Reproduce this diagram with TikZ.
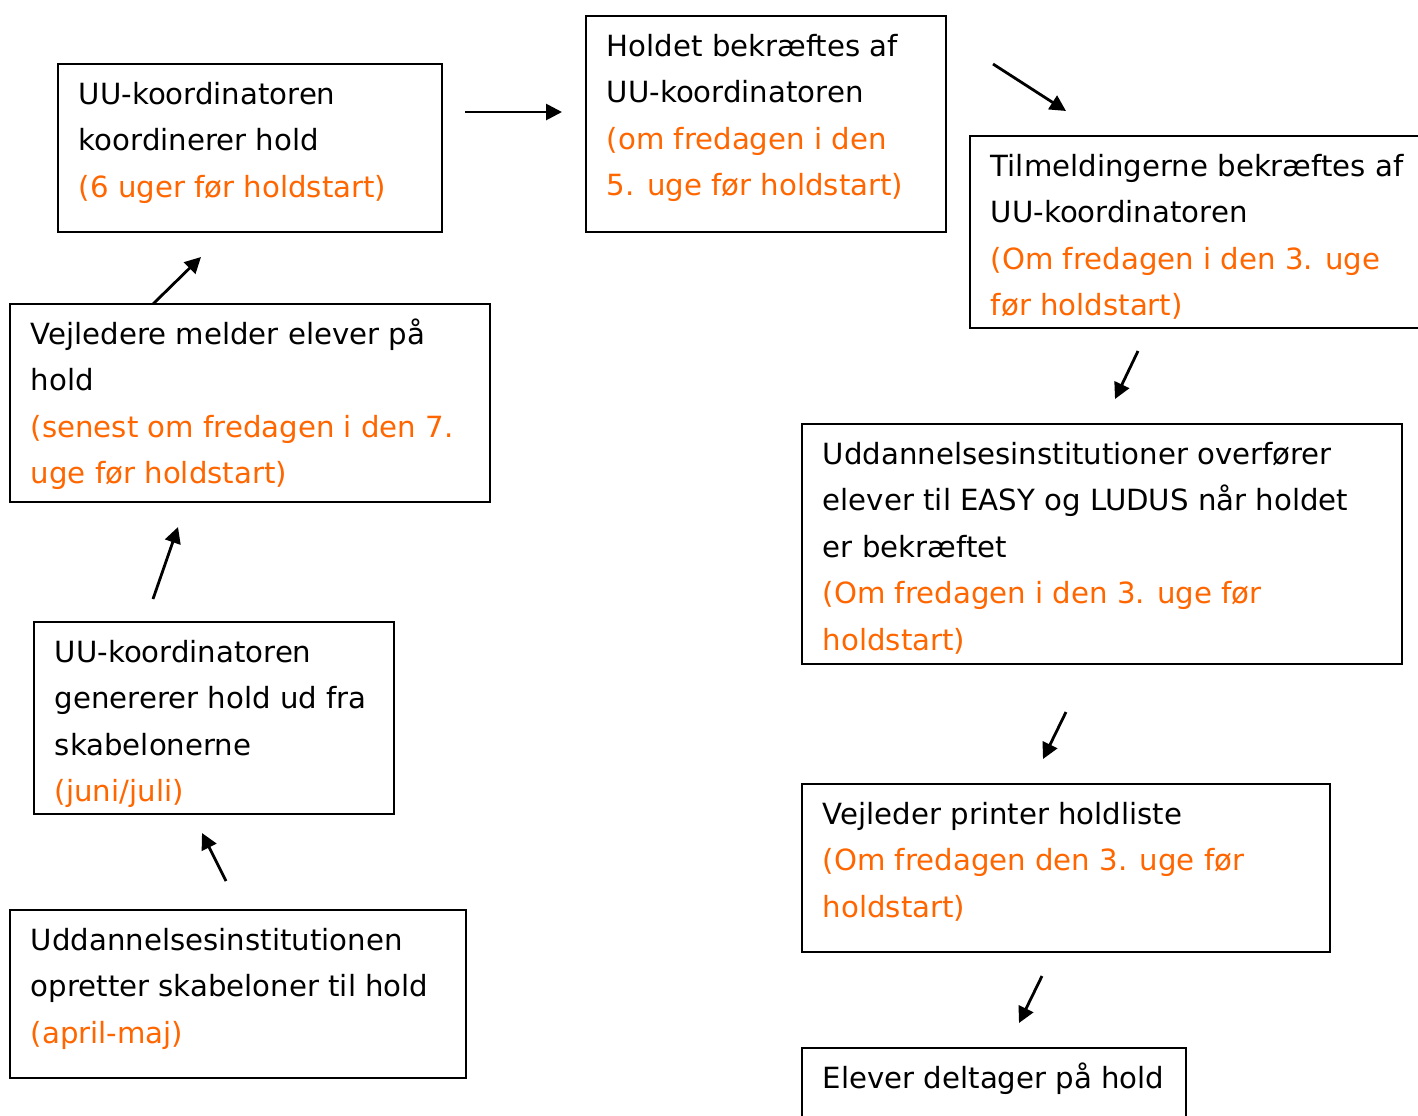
\documentclass[tikz,border=0pt]{standalone}
\usepackage{fontspec}
\setmainfont{DejaVu Sans}
\usetikzlibrary{arrows.meta,fit}
\definecolor{orng}{RGB}{255,102,0}
\begin{document}
\begin{tikzpicture}[x=0.5pt,y=-0.5pt,
  box/.style={draw,line width=1pt,inner sep=0pt,outer sep=0pt},
  txt/.style={anchor=base west,align=left,inner sep=0pt,font=\fontsize{14.6}{23.25}\selectfont},
  arr/.style={line width=1.4pt,-{Triangle[length=8pt,width=8pt]}}]
\useasboundingbox (0,0) rectangle (1418,1115);
\clip (0,0) rectangle (1418,1115);
% boxes
\node (b1) [box, fit={(58,64) (442,232)}] {};
\node (b2) [box, fit={(586,16) (946,232)}] {};
\node (b3) [box, fit={(970,136) (1440,328)}] {};
\node (b4) [box, fit={(10,304) (490,502)}] {};
\node (b5) [box, fit={(802,424) (1402,664)}] {};
\node (b6) [box, fit={(34,622) (394,814)}] {};
\node (b7) [box, fit={(802,784) (1330,952)}] {};
\node (b8) [box, fit={(10,910) (466,1078)}] {};
\node (b9) [box, fit={(802,1048) (1186,1140)}] {};
% texts (anchored at the baseline of their last line)
\node (t1) [txt] at ([xshift=10.25pt,yshift=-66.5pt]b1.north west) {UU-koordinatoren\\koordinerer hold\\\textcolor{orng}{(6 uger før holdstart)}};
\node (t2) [txt] at ([xshift=10.25pt,yshift=-89.75pt]b2.north west) {Holdet bekræftes af\\UU-koordinatoren\\\textcolor{orng}{(om fredagen i den}\\\textcolor{orng}{5. uge før holdstart)}};
\node (t3) [txt] at ([xshift=10.25pt,yshift=-89.75pt]b3.north west) {Tilmeldingerne bekræftes af\\UU-koordinatoren\\\textcolor{orng}{(Om fredagen i den 3. uge}\\\textcolor{orng}{før holdstart)}};
\node (t4) [txt] at ([xshift=10.25pt,yshift=-89.75pt]b4.north west) {Vejledere melder elever på\\hold\\\textcolor{orng}{(senest om fredagen i den 7.}\\\textcolor{orng}{uge før holdstart)}};
\node (t5) [txt] at ([xshift=10.25pt,yshift=-113pt]b5.north west) {Uddannelsesinstitutioner overfører\\elever til EASY og LUDUS når holdet\\er bekræftet\\\textcolor{orng}{(Om fredagen i den 3. uge før}\\\textcolor{orng}{holdstart)}};
\node (t6) [txt] at ([xshift=10.25pt,yshift=-89.75pt]b6.north west) {UU-koordinatoren\\genererer hold ud fra\\skabelonerne\\\textcolor{orng}{(juni/juli)}};
\node (t7) [txt] at ([xshift=10.25pt,yshift=-66.5pt]b7.north west) {Vejleder printer holdliste\\\textcolor{orng}{(Om fredagen den 3. uge før}\\\textcolor{orng}{holdstart)}};
\node (t8) [txt] at ([xshift=10.25pt,yshift=-66.5pt]b8.north west) {Uddannelsesinstitutionen\\opretter skabeloner til hold\\\textcolor{orng}{(april-maj)}};
\node (t9) [txt] at ([xshift=10.25pt,yshift=-20pt]b9.north west) {Elever deltager på hold};
% arrow end points
\coordinate (a1s) at (465,112);  \coordinate (a1e) at (562,112);
\coordinate (a2s) at (993,64);   \coordinate (a2e) at (1066,111);
\coordinate (a3s) at (1138,351); \coordinate (a3e) at (1115,399);
\coordinate (a4s) at (1066,712); \coordinate (a4e) at (1043,759);
\coordinate (a5s) at (1042,976); \coordinate (a5e) at (1019,1023);
\coordinate (a6s) at (226,881);  \coordinate (a6e) at (202,833);
\coordinate (a7s) at (153,599);  \coordinate (a7e) at (178,527);
\coordinate (a8s) at (153,304);  \coordinate (a8e) at (201,257);
\draw[arr] (a1s) -- (a1e);
\draw[arr] (a2s) -- (a2e);
\draw[arr] (a3s) -- (a3e);
\draw[arr] (a4s) -- (a4e);
\draw[arr] (a5s) -- (a5e);
\draw[arr] (a6s) -- (a6e);
\draw[arr] (a7s) -- (a7e);
\draw[arr] (a8s) -- (a8e);
\end{tikzpicture}
\end{document}
